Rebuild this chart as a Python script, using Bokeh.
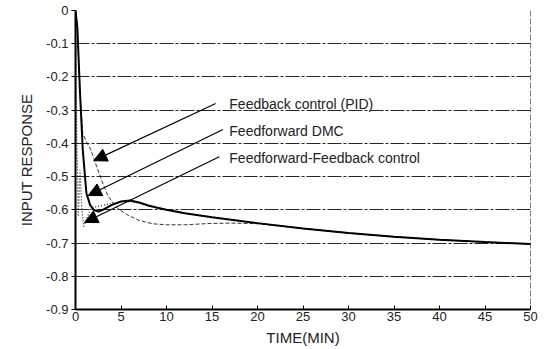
from bokeh.plotting import figure
from bokeh.models import Range1d, FixedTicker, Arrow, NormalHead, Span, Label
from bokeh.embed import file_html
from bokeh.resources import INLINE

# ---- data ----
x_ticks = [0, 5, 10, 15, 20, 25, 30, 35, 40, 45, 50]
y_ticks = [0, -0.1, -0.2, -0.3, -0.4, -0.5, -0.6, -0.7, -0.8, -0.9]
y_tick_labels = ["0", "-0.1", "-0.2", "-0.3", "-0.4", "-0.5", "-0.6", "-0.7", "-0.8", "-0.9"]

# Feedforward DMC (thick solid)
dmc_t = [0, 0.2, 0.5, 0.8, 1.2, 1.6, 2.0, 2.5, 3, 4, 5, 6, 7, 8, 9, 10, 12, 15, 20, 25, 30, 35, 40, 45, 50]
dmc_y = [0, -0.05, -0.25, -0.42, -0.55, -0.585, -0.60, -0.605, -0.60, -0.585, -0.575, -0.572,
         -0.578, -0.587, -0.594, -0.60, -0.61, -0.622, -0.64, -0.656, -0.67, -0.681, -0.69, -0.697, -0.703]

# Feedback control (PID) (thin dashed)
pid_t = [0, 0.2, 0.5, 0.8, 1.2, 1.7, 2.2, 3.0, 3.6, 4.6, 5.7, 7, 8.5, 10, 12, 14.8, 17, 19, 20, 25, 30, 35, 40, 45, 50]
pid_y = [0, -0.05, -0.25, -0.37, -0.395, -0.42, -0.46, -0.52, -0.56, -0.595, -0.615, -0.632, -0.642,
         -0.645, -0.645, -0.641, -0.64, -0.641, -0.642, -0.656, -0.67, -0.681, -0.69, -0.697, -0.703]

# Feedforward-Feedback control (dotted)
fffb_t = [0, 0.1, 0.3, 0.5, 0.7, 0.9, 1.2, 1.6, 2, 3, 4, 5, 6, 7, 8, 9, 10, 12, 15, 20, 25, 30, 35, 40, 45, 50]
fffb_y = [0, -0.3, -0.62, -0.48, -0.6, -0.65, -0.63, -0.6, -0.592, -0.587, -0.58, -0.576, -0.575,
          -0.58, -0.588, -0.594, -0.60, -0.61, -0.622, -0.64, -0.656, -0.67, -0.681, -0.69, -0.697, -0.703]

# annotations: label text, label anchor (x, y), arrow start (x, y), arrow tip (x, y)
ann_text = ["Feedback control (PID)", "Feedforward DMC", "Feedforward-Feedback control"]
ann_text_x = [16.9, 16.9, 16.9]
ann_text_y = [-0.28, -0.364, -0.443]
arr_x0 = [15.4, 16.2, 15.8]
arr_y0 = [-0.28, -0.358, -0.44]
arr_x1 = [2.0, 1.4, 1.0]
arr_y1 = [-0.452, -0.557, -0.638]

FONT = "Liberation Sans"

p = figure(width=548, height=349, output_backend="svg", toolbar_location=None,
           x_range=Range1d(x_ticks[0], x_ticks[-1]), y_range=Range1d(y_ticks[-1], y_ticks[0]),
           min_border_left=75, min_border_right=18, min_border_top=10, min_border_bottom=40)
p.outline_line_color = None
p.background_fill_color = "white"
p.border_fill_color = "white"

# axes
p.xaxis.ticker = FixedTicker(ticks=x_ticks)
p.yaxis.ticker = FixedTicker(ticks=y_ticks)
p.yaxis.major_label_overrides = {v: s for v, s in zip(y_ticks, y_tick_labels)}
for ax in (p.xaxis[0], p.yaxis[0]):
    ax.axis_line_color = "black"
    ax.axis_line_width = 2
    ax.major_tick_line_color = "black"
    ax.minor_tick_line_color = None
    ax.major_label_text_font = FONT
    ax.major_label_text_font_size = "13px"
    ax.major_label_text_color = "#222222"
    ax.axis_label_text_font = FONT
    ax.axis_label_text_font_size = "15px"
    ax.axis_label_text_font_style = "normal"
    ax.axis_label_text_color = "#222222"
p.yaxis.major_tick_out = 4
p.yaxis.major_tick_in = 0
p.yaxis.major_label_standoff = 3
p.xaxis.major_tick_out = 0
p.xaxis.major_tick_in = 4
p.xaxis.major_label_standoff = 2
p.xaxis.axis_label = "TIME(MIN)"
p.xaxis.axis_label_standoff = 5
p.yaxis.axis_label = "INPUT RESPONSE"
p.yaxis.axis_label_standoff = 8

# grid
p.xgrid.grid_line_color = None
p.ygrid.ticker = FixedTicker(ticks=y_ticks)
p.ygrid.grid_line_color = "black"
p.ygrid.grid_line_width = 1
p.ygrid.grid_line_dash = "14 2 3 2"
p.ygrid.grid_line_alpha = 0.85

# right border
p.add_layout(Span(location=x_ticks[-1], dimension="height", line_color="black",
                  line_width=1, line_dash="6 2"))

# curves
p.line(pid_t, pid_y, line_color="black", line_width=1, line_dash="4 2", line_alpha=0.8)
p.line(fffb_t, fffb_y, line_color="black", line_width=1.2, line_dash="1 2", line_alpha=0.9)
p.line(dmc_t, dmc_y, line_color="black", line_width=2)

# arrows and labels
for i in range(len(ann_text)):
    p.add_layout(Arrow(end=NormalHead(size=13, fill_color="black", line_color="black"),
                       x_start=arr_x0[i], y_start=arr_y0[i], x_end=arr_x1[i], y_end=arr_y1[i],
                       line_color="black", line_width=1.2))
    p.add_layout(Label(x=ann_text_x[i], y=ann_text_y[i], text=ann_text[i],
                       text_font=FONT, text_font_size="14px", text_color="#222222",
                       text_baseline="middle", text_align="left"))

open("out.html", "w").write(file_html(p, INLINE))
